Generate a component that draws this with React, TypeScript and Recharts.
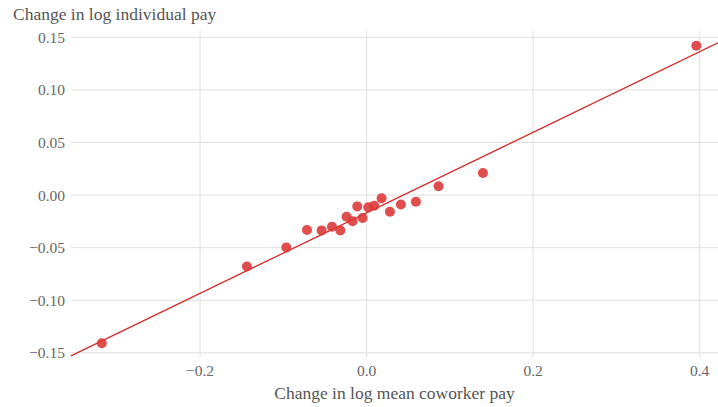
import React from 'react';
import { ScatterChart, Scatter, XAxis, YAxis, CartesianGrid, ReferenceLine } from 'recharts';

// binned means: change in log mean coworker pay vs change in log individual pay
const coworkerChange = [
  -0.318, -0.1437, -0.0964, -0.0716, -0.054, -0.0416, -0.0316, -0.024, -0.0168, -0.0112,
  -0.0048, 0.002, 0.0092, 0.018, 0.028, 0.0412, 0.0592, 0.0864, 0.1397, 0.396,
];
const individualChange = [
  -0.141, -0.0679, -0.0498, -0.0333, -0.0336, -0.0302, -0.0336, -0.0207, -0.0248, -0.0108,
  -0.0219, -0.0117, -0.0102, -0.0031, -0.0159, -0.0089, -0.0064, 0.0083, 0.021, 0.142,
];
const xTicks = [-0.2, 0, 0.2, 0.4];
const yTicks = [-0.15, -0.1, -0.05, 0, 0.05, 0.1, 0.15];

// fitted line
const fitSlope = 0.383;
const fitIntercept = -0.0169;

const xDomain: [number, number] = [-0.355, 0.422];
const yDomain: [number, number] = [-0.154, 0.156];

const points = coworkerChange.map((x, i) => ({ x, y: individualChange[i] }));
const fitSegment = xDomain.map((x) => ({ x, y: fitIntercept + fitSlope * x }));

const fmt = (digits: number) => (v: number) => {
  const s = Math.abs(v).toFixed(digits);
  return v < -1e-9 ? '\u2212' + s : s;
};

const font = '"Liberation Serif", "Times New Roman", serif';
const gray = '#666';

export default function App() {
  return (
    <div style={{ position: 'absolute', left: 0, top: 0, width: 718, height: 407, fontFamily: font }}>
      <div style={{ position: 'absolute', left: 13, top: 4, fontSize: 17.5, color: '#555', lineHeight: '20px' }}>
        Change in log individual pay
      </div>
      <ScatterChart width={718} height={407} margin={{ top: 31, right: 0, bottom: 0, left: 0 }}>
        <CartesianGrid stroke="#e0e0e0" strokeWidth={1} syncWithTicks />
        <XAxis
          type="number"
          dataKey="x"
          domain={xDomain}
          ticks={xTicks}
          tickFormatter={fmt(1)}
          axisLine={false}
          tickLine={false}
          height={50}
          allowDataOverflow
          tick={{ fill: gray, fontSize: 15.5, fontFamily: font }}
          tickMargin={2}
          label={{ value: 'Change in log mean coworker pay', position: 'insideBottom', offset: 8, fill: '#555', fontSize: 17.5, fontFamily: font }}
        />
        <YAxis
          type="number"
          dataKey="y"
          domain={yDomain}
          ticks={yTicks}
          tickFormatter={fmt(2)}
          axisLine={false}
          tickLine={false}
          width={71}
          allowDataOverflow
          tick={{ fill: gray, fontSize: 15.5, fontFamily: font }}
          tickMargin={0}
        />
        <ReferenceLine segment={fitSegment} stroke="#d42a2a" strokeWidth={1.3} ifOverflow="visible" />
        <Scatter
          data={points}
          fill="#dc3a3a"
          fillOpacity={0.9}
          isAnimationActive={false}
          shape={(p: any) => <circle cx={p.cx} cy={p.cy} r={5} fill="#dc3a3a" fillOpacity={0.9} />}
        />
      </ScatterChart>
    </div>
  );
}
